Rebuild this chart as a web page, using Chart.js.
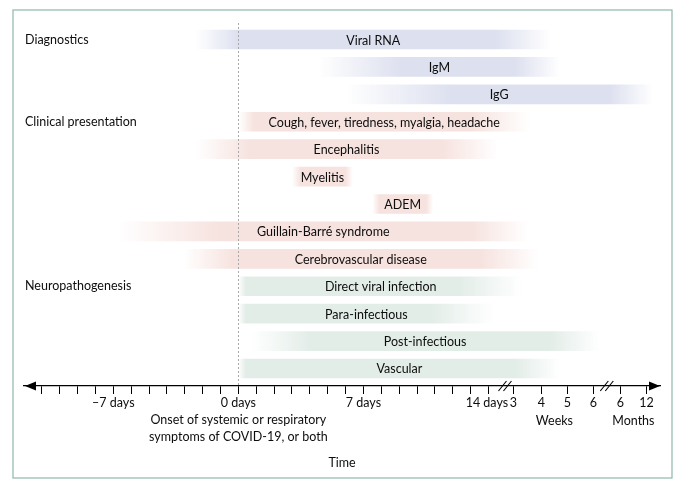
<!DOCTYPE html>
<html>
<head>
<meta charset="utf-8">
<script src="https://cdn.jsdelivr.net/npm/chart.js@4/dist/chart.umd.min.js"></script>
<style>
  html, body { margin: 0; padding: 0; background: #fff; }
  #wrap { width: 680px; height: 490px; }
</style>
</head>
<body>
<div id="wrap"><canvas id="timeline" width="680" height="490"></canvas></div>
<script>
// ---------- data ----------
const rows = ['Viral RNA', 'IgM', 'IgG', 'Cough, fever, tiredness, myalgia, headache',
    'Encephalitis', 'Myelitis', 'ADEM', 'Guillain-Barré syndrome', 'Cerebrovascular disease',
    'Direct viral infection', 'Para-infectious', 'Post-infectious', 'Vascular'];
const rowGroup = [0, 0, 0, 1, 1, 1, 1, 1, 1, 2, 2, 2, 2];
// timeline units: days up to 14, then weeks 3-6 and months 6-12 after axis breaks
const barStart  = [-2.4, 4.5, 6.0, 0.0, -2.4, 3.0, 7.5, -6.7, -3.1, 0.0, 0.0, 0.7, 0.0];
const solidFrom = [0.0, 9.1, 11.9, 0.9, 0.7, 3.5, 7.9, -1.0, -0.2, 0.4, 0.4, 4.0, 0.4];
const solidTo   = [14.4, 15.5, 20.8, 13.0, 11.3, 6.0, 10.5, 13.0, 13.5, 12.4, 10.8, 17.5, 15.5];
const barEnd    = [17.5, 18.0, 23.2, 16.3, 14.5, 6.4, 10.9, 16.2, 16.8, 15.9, 14.3, 20.2, 18.0];

const sections = ['Diagnostics', 'Clinical presentation', 'Neuropathogenesis'];
const sectionRow = [0, 3, 9];

const tickPos = [-11, -10, -9, -8, -7, -6, -5, -4, -3, -2, -1, 0, 1, 2, 3, 4, 5, 6, 7,
    8, 9, 10, 11, 12, 13, 14, 15.39, 16.96, 18.42, 19.87, 21.38, 22.84];
const tickText = ['', '', '', '', '–7 days', '', '', '', '', '', '',
    ['0 days', 'Onset of systemic or respiratory', 'symptoms of COVID-19, or both'],
    '', '', '', '', '', '', '7 days', '', '', '', '', '', '', '14 days ',
    '3', '4', '5', '6', '6', '12'];
const unitNames = ['Weeks', 'Months'];
const unitSpan = [[16.96, 18.42], [21.38, 22.84]];
const axisBreaks = [14.95, 20.65];

const GROUP_RGB = ['221,224,239', '246,226,222', '227,237,232'];
const FONT = 'Lato, "Noto Sans", sans-serif';
const INK = '#0d0d0d';

// ---------- helpers ----------
function barFill(ctx) {
    const chart = ctx.chart, i = ctx.dataIndex;
    const xs = chart.scales.x;
    const rgb = GROUP_RGB[rowGroup[i] || 0];
    const solid = 'rgba(' + rgb + ',1)';
    if (!xs || i === undefined) return solid;
    const x0 = xs.getPixelForValue(barStart[i]);
    const x1 = xs.getPixelForValue(barEnd[i]);
    const a = xs.getPixelForValue(solidFrom[i]);
    const b = xs.getPixelForValue(solidTo[i]);
    if (![x0, x1, a, b].every(Number.isFinite) || x1 <= x0) return solid;
    const w = x1 - x0;
    const g = chart.ctx.createLinearGradient(x0, 0, x1, 0);
    g.addColorStop(0, 'rgba(' + rgb + ',0)');
    g.addColorStop(Math.max(0, (a - x0) / w), solid);
    g.addColorStop(Math.min(1, (b - x0) / w), solid);
    g.addColorStop(1, 'rgba(' + rgb + ',0)');
    return g;
}

const decorations = {
    id: 'decorations',
    beforeDraw(chart) {
        const c = chart.ctx;
        c.save();
        c.strokeStyle = '#8fb8a8';
        c.lineWidth = 1.2;
        c.strokeRect(13, 10, 659, 468);
        c.restore();
    },
    afterDatasetsDraw(chart) {
        const c = chart.ctx, xs = chart.scales.x, area = chart.chartArea;
        const meta = chart.getDatasetMeta(0);
        c.save();
        // onset line
        const x0 = Math.round(xs.getPixelForValue(0)) + 0.5;
        c.strokeStyle = '#a9a9a9';
        c.lineWidth = 1;
        c.setLineDash([2, 2]);
        c.beginPath();
        c.moveTo(x0, area.top - 2);
        c.lineTo(x0, area.bottom);
        c.stroke();
        c.setLineDash([]);
        // bar labels
        c.fillStyle = INK;
        c.font = '12.5px ' + FONT;
        c.textAlign = 'center';
        c.textBaseline = 'middle';
        meta.data.forEach((bar, i) => {
            c.fillText(rows[i], (bar.x + bar.base) / 2, bar.y + 1);
        });
        c.restore();
    },
    afterDraw(chart) {
        const c = chart.ctx, xs = chart.scales.x;
        const y = xs.top;
        c.save();
        c.fillStyle = '#000';
        c.strokeStyle = '#000';
        // arrowheads
        c.beginPath();
        c.moveTo(xs.left + 1, y);
        c.lineTo(xs.left + 12, y - 4.5);
        c.lineTo(xs.left + 12, y + 4.5);
        c.closePath();
        c.fill();
        c.beginPath();
        c.moveTo(xs.right, y);
        c.lineTo(xs.right - 11, y - 4.5);
        c.lineTo(xs.right - 11, y + 4.5);
        c.closePath();
        c.fill();
        // axis breaks
        c.lineWidth = 1.1;
        axisBreaks.forEach(v => {
            const bx = xs.getPixelForValue(v);
            [-3, 2].forEach(d => {
                c.beginPath();
                c.moveTo(bx + d - 4, y + 5);
                c.lineTo(bx + d + 4, y - 5);
                c.stroke();
            });
        });
        // unit names under weeks / months
        c.fillStyle = INK;
        c.font = '12.5px ' + FONT;
        c.textAlign = 'center';
        c.textBaseline = 'middle';
        unitNames.forEach((name, i) => {
            const mx = (xs.getPixelForValue(unitSpan[i][0]) + xs.getPixelForValue(unitSpan[i][1])) / 2;
            c.fillText(name, mx, 421);
        });
        c.restore();
    }
};

// ---------- chart ----------
const chart = new Chart(document.getElementById('timeline'), {
    type: 'bar',
    data: {
        datasets: [{
            data: rows.map((r, i) => ({ x: [barStart[i], barEnd[i]], y: i })),
            backgroundColor: barFill,
            borderWidth: 0,
            barThickness: 19
        }]
    },
    options: {
        indexAxis: 'y',
        responsive: false,
        animation: false,
        layout: { padding: { left: 24, right: 20, top: 25, bottom: 0 } },
        plugins: { legend: { display: false }, tooltip: { enabled: false } },
        scales: {
            x: {
                type: 'linear',
                position: 'bottom',
                min: -12,
                max: 23.6,
                offset: false,
                afterBuildTicks: s => { s.ticks = tickPos.map(v => ({ value: v })); },
                afterFit: s => { s.height = 104; },
                grid: { display: true, drawOnChartArea: false, drawTicks: true, tickLength: 8, color: '#000', lineWidth: 1 },
                border: { display: true, color: '#000', width: 1.3 },
                ticks: {
                    autoSkip: false, maxRotation: 0, minRotation: 0, padding: 1,
                    color: INK,
                    font: { family: FONT, size: 12.5, lineHeight: 1.35 },
                    callback: (v, i) => tickText[i]
                },
                title: {
                    display: true, text: 'Time', color: INK,
                    font: { family: FONT, size: 12.5, lineHeight: 1.2 },
                    padding: { top: 0, bottom: 20 }
                }
            },
            y: {
                type: 'linear',
                position: 'left',
                reverse: true,
                min: -0.53,
                max: 12.64,
                offset: false,
                afterBuildTicks: s => { s.ticks = sectionRow.map(v => ({ value: v })); },
                afterFit: s => { s.width = 0; },
                grid: { display: false, drawTicks: false, offset: false },
                border: { display: false },
                ticks: {
                    mirror: true, padding: 1, autoSkip: false,
                    color: INK,
                    font: { family: FONT, size: 12.5 },
                    callback: (v, i) => sections[i]
                }
            }
        }
    },
    plugins: [decorations]
});
chart.update('none');
</script>
</body>
</html>
